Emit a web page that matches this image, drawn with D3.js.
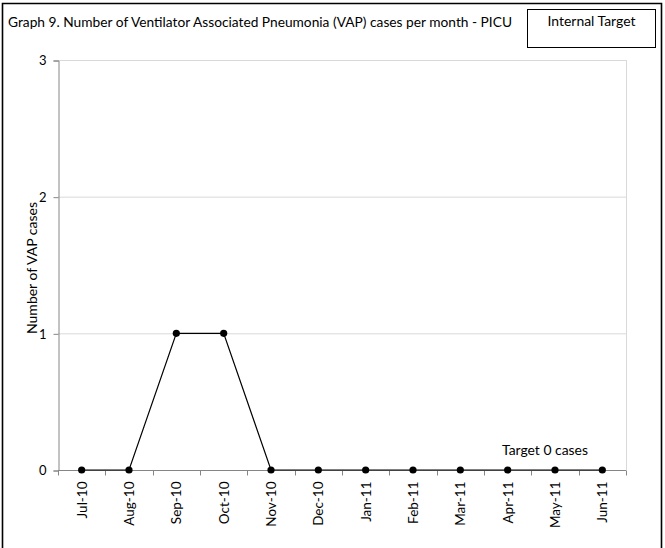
<!DOCTYPE html>
<html>
<head>
<meta charset="utf-8">
<script src="https://cdn.jsdelivr.net/npm/d3@7/dist/d3.min.js"></script>
<style>
  html, body { margin: 0; padding: 0; background: #fff; }
  svg { display: block; font-family: Lato, "Open Sans", sans-serif; }
</style>
</head>
<body>
<svg id="chart" width="665" height="548"></svg>
<script>
// Monthly VAP cases, PICU
const months = ["Jul-10", "Aug-10", "Sep-10", "Oct-10", "Nov-10", "Dec-10",
                "Jan-11", "Feb-11", "Mar-11", "Apr-11", "May-11", "Jun-11"];
const vapCases = [0, 0, 1, 1, 0, 0, 0, 0, 0, 0, 0, 0];
const yTicks = [0, 1, 2, 3];

const titleText = "Graph 9. Number of Ventilator Associated Pneumonia (VAP) cases per month - PICU";
const legendText = "Internal Target";
const targetText = "Target 0 cases";
const yTitle = "Number of VAP cases";

const svg = d3.select("#chart");
const plot = { left: 58, right: 626, top: 60, bottom: 470 };

// outer frame (open at the bottom edge)
svg.append("path")
  .attr("d", "M2.5,560 V3.5 H661.5 V560")
  .attr("fill", "none").attr("stroke", "#000").attr("stroke-width", 1.6);

const x = d3.scaleBand().domain(months).range([plot.left, plot.right]);
const y = d3.scaleLinear().domain([0, 3]).range([plot.bottom, plot.top]);

// horizontal gridlines
svg.append("g").selectAll("line").data(yTicks.filter(d => d > 0)).join("line")
  .attr("x1", plot.left).attr("x2", plot.right)
  .attr("y1", d => y(d) + 0.5).attr("y2", d => y(d) + 0.5)
  .attr("stroke", "#d9d9d9").attr("stroke-width", 1);

// right border of plot area
svg.append("line")
  .attr("x1", plot.right + 0.5).attr("x2", plot.right + 0.5)
  .attr("y1", plot.top).attr("y2", plot.bottom)
  .attr("stroke", "#d9d9d9");

// y axis
const yAxis = svg.append("g")
  .attr("transform", `translate(${plot.left + 0.5},0.5)`)
  .call(d3.axisLeft(y).tickValues(yTicks).tickFormat(d3.format("d")).tickSize(5).tickPadding(7));
yAxis.select(".domain").attr("stroke", "#868686");
yAxis.selectAll(".tick line").attr("stroke", "#868686");
yAxis.selectAll("text").attr("font-size", 13).attr("fill", "#000")
  .attr("font-family", "Lato, sans-serif");

// x axis: ticks between categories
const xAxisG = svg.append("g").attr("transform", `translate(0,${plot.bottom + 0.5})`);
xAxisG.append("line")
  .attr("x1", plot.left).attr("x2", plot.right)
  .attr("stroke", "#868686");
const boundaries = months.map(m => x(m)).concat([plot.right]);
xAxisG.selectAll("line.tk").data(boundaries).join("line")
  .attr("class", "tk")
  .attr("x1", d => Math.round(d) + 0.5).attr("x2", d => Math.round(d) + 0.5)
  .attr("y1", 0).attr("y2", 5)
  .attr("stroke", "#868686");
xAxisG.selectAll("text").data(months).join("text")
  .attr("transform", d => `translate(${x(d) + x.bandwidth() / 2 + 5},11) rotate(-90)`)
  .attr("text-anchor", "end")
  .attr("font-size", 13.5)
  .attr("fill", "#000")
  .text(d => d);

// data line
const cx = d => x(d) + x.bandwidth() / 2;
const line = d3.line().x((d, i) => cx(months[i])).y(d => y(d));
svg.append("path").datum(vapCases)
  .attr("d", line)
  .attr("fill", "none").attr("stroke", "#000").attr("stroke-width", 1.2);
svg.append("g").selectAll("circle").data(vapCases).join("circle")
  .attr("cx", (d, i) => cx(months[i]))
  .attr("cy", d => y(d))
  .attr("r", 3.6)
  .attr("fill", "#000");

// title
svg.append("text")
  .attr("x", 8).attr("y", 27)
  .attr("font-size", 13)
  .attr("textLength", 504).attr("lengthAdjust", "spacingAndGlyphs")
  .attr("fill", "#000")
  .text(titleText);

// legend box
svg.append("rect")
  .attr("x", 527.5).attr("y", 9.5).attr("width", 128).attr("height", 38)
  .attr("fill", "#fff").attr("stroke", "#000").attr("stroke-width", 1);
svg.append("text")
  .attr("x", 591.5).attr("y", 26)
  .attr("text-anchor", "middle")
  .attr("font-size", 13)
  .attr("textLength", 88).attr("lengthAdjust", "spacingAndGlyphs")
  .text(legendText);

// target annotation
svg.append("text")
  .attr("x", 502).attr("y", 455)
  .attr("font-size", 13)
  .attr("textLength", 86).attr("lengthAdjust", "spacingAndGlyphs")
  .text(targetText);

// y axis title
svg.append("text")
  .attr("transform", "translate(36.5,268) rotate(-90)")
  .attr("text-anchor", "middle")
  .attr("font-size", 13.5)
  .attr("textLength", 132).attr("lengthAdjust", "spacingAndGlyphs")
  .text(yTitle);
</script>
</body>
</html>
